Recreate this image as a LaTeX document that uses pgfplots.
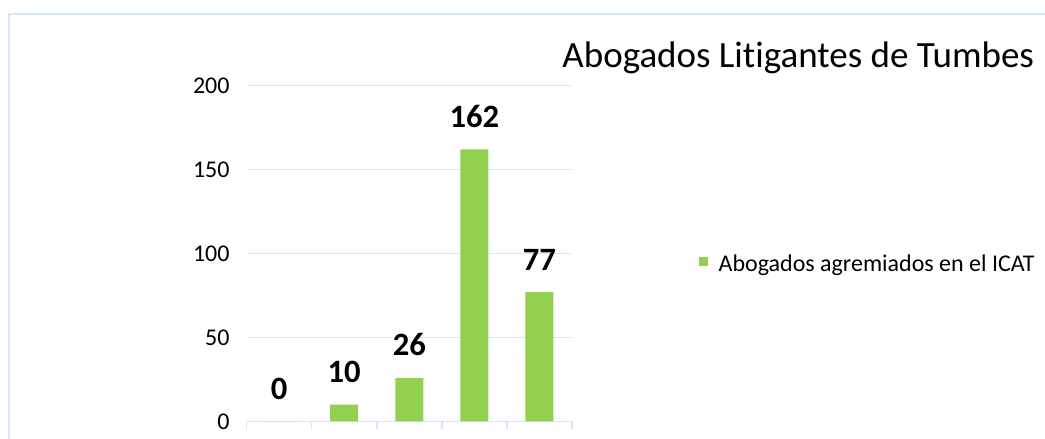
\documentclass[border=0pt]{standalone}
\usepackage{fontspec}
\setmainfont{Carlito}[Ligatures=NoCommon]
\usepackage{pgfplots}
\pgfplotsset{compat=1.18}

\definecolor{barverde}{RGB}{146,208,80}
\definecolor{lineazul}{RGB}{214,232,248}

\begin{document}
\begin{tikzpicture}
\useasboundingbox (0pt,0pt) rectangle (522.5pt,219.5pt);
% outer frame (left and top edges visible only)
\draw[lineazul, line width=1pt] (4.5pt,-5pt) -- (4.5pt,212.5pt) -- (530pt,212.5pt);

\node[anchor=base west, inner sep=0pt, font=\fontsize{18.5}{20}\selectfont]
  at (281pt,185.5pt) {Abogados Litigantes de Tumbes};

\begin{axis}[
  at={(123.3pt,8.75pt)}, anchor=south west,
  scale only axis, width=162.7pt, height=168pt,
  ybar, bar width=14pt,
  xmin=-0.5, xmax=4.5, ymin=0, ymax=200,
  ytick={0,50,100,150,200},
  xtick={-0.5,0.5,1.5,2.5,3.5,4.5}, xticklabels={},
  axis x line*=bottom, axis y line*=left,
  y axis line style={draw=none},
  x axis line style={lineazul, line width=0.75pt},
  xtick style={lineazul, line width=0.75pt},
  ytick style={draw=none},
  xtick align=outside, ytick align=inside,
  major tick length=4pt,
  ymajorgrids, grid style={lineazul, line width=0.75pt},
  /pgf/number format/assume math mode=true,
  yticklabel style={font=\fontsize{12}{13}\selectfont, xshift=-5pt},
  nodes near coords,
  every node near coord/.append style={font=\bfseries\fontsize{16.3}{16}\selectfont,
    anchor=base, yshift=11pt, black},
  legend style={draw=none, fill=none, font=\fontsize{12}{14}\selectfont,
    at={(axis description cs:1.372,0.4664)}, anchor=west},
  legend image code/.code={\fill[barverde] (0pt,-0.5pt) rectangle (4.3pt,3.8pt);
    \path (0pt,0pt) -- (7.6pt,0pt);},
]
\addplot[fill=barverde, draw=none] coordinates {(0,0) (1,10) (2,26) (3,162) (4,77)};
\legend{Abogados agremiados en el ICAT}
\end{axis}
\end{tikzpicture}
\end{document}
